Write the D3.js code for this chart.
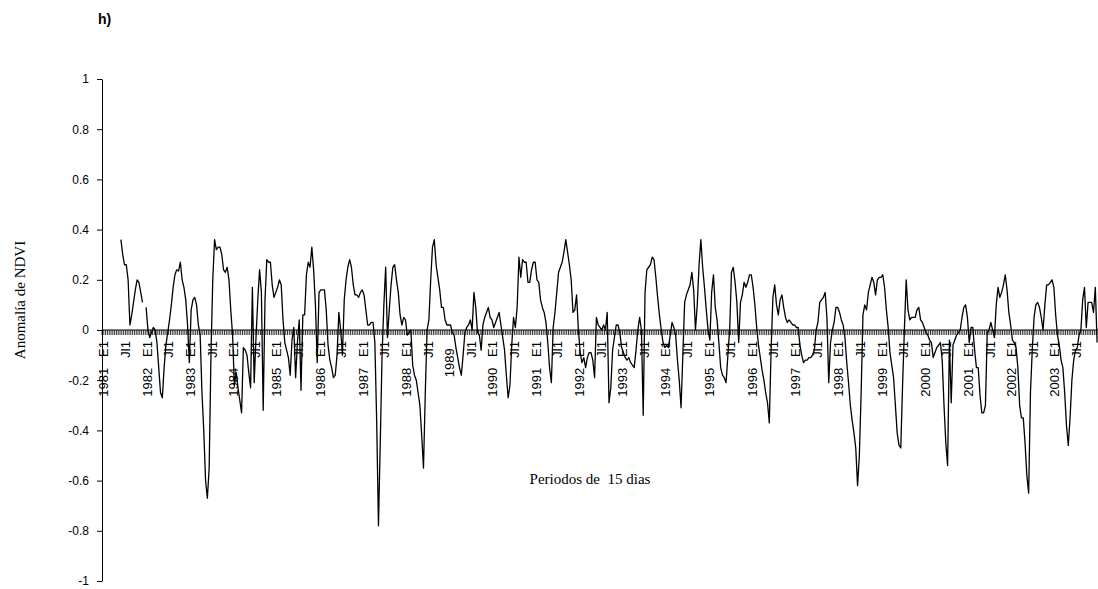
<!DOCTYPE html>
<html>
<head>
<meta charset="utf-8">
<title>Anomalía de NDVI</title>
<style>
  body { margin: 0; background: #fff; }
  .tick-label { font: 12px "Liberation Sans", Arial, sans-serif; fill: #000; white-space: pre; }
  .cat-label { font: 13px "Liberation Sans", Arial, sans-serif; fill: #000; white-space: pre; }
  .title { font: 15px "Liberation Serif", "Times New Roman", serif; fill: #000; white-space: pre; }
  .panel { font: bold 14px "Liberation Sans", Arial, sans-serif; fill: #000; }
</style>
<script src="https://d3js.org/d3.v7.min.js"></script>
</head>
<body>
<svg width="1098" height="589"></svg>
<script>
// years on the category axis (24 fifteen-day periods per year)
const years = [1981, 1982, 1983, 1984, 1985, 1986, 1987, 1988, 1989, 1990, 1991, 1992,
               1993, 1994, 1995, 1996, 1997, 1998, 1999, 2000, 2001, 2002, 2003];
const halfLabels = ["E1", "Jl1"];
const yTicks = [-1, -0.8, -0.6, -0.4, -0.2, 0, 0.2, 0.4, 0.6, 0.8, 1];

// NDVI anomaly, one value per 15-day period (null = no data)
const ndvi = [
  // 1981
  null, null, null, null, null, null, null, null, null, null, .36, .30,
  .26, .26, .20, .02, .06, .11, .16, .20, .19, .15, .11, null,
  // 1982
  .09, .00, -.03, -.01, .01, .00, -.05, -.15, -.25, -.27, -.15, -.06,
  -.01, .04, .10, .17, .22, .24, .235, .27, .20, .17, .12, .02,
  // 1983
  -.13, .08, .12, .13, .10, .02, -.02, -.25, -.40, -.60, -.67, -.55,
  -.10, .20, .36, .32, .33, .33, .30, .24, .23, .25, .20, .08,
  // 1984
  -.02, -.22, -.17, -.23, -.28, -.33, -.07, -.08, -.10, -.17, -.23, .17,
  -.21, -.03, .12, .24, .15, -.32, .12, .28, .27, .27, .18, .13,
  // 1985
  .15, .17, .20, .18, .04, -.05, -.08, -.11, -.18, -.04, .01, -.19,
  -.05, .04, -.24, .06, .06, .22, .27, .25, .33, .24, .10, -.13,
  // 1986
  .15, .16, .16, .16, .08, -.06, -.12, -.15, -.19, -.18, -.10, .07,
  .00, -.10, .12, .20, .25, .28, .25, .18, .14, .14, .13, .15,
  // 1987
  .16, .14, .08, .02, .02, .03, .03, -.05, -.36, -.78, -.45, -.10,
  .10, .25, -.03, .08, .18, .25, .26, .20, .15, .06, .02, .05,
  // 1988
  .04, -.02, -.01, .00, -.14, -.18, -.20, -.25, -.30, -.42, -.55, -.25,
  .00, .04, .20, .33, .36, .26, .21, .16, .09, .09, .04, .02,
  // 1989
  .02, .02, -.01, -.02, -.07, -.11, -.15, -.18, -.10, -.01, .01, .02,
  .04, .00, .15, .09, -.01, -.02, -.08, .02, .05, .07, .09, .05,
  // 1990
  .04, .01, .03, .05, .07, .02, -.03, -.08, -.18, -.27, -.22, -.06,
  .05, .01, .09, .29, .21, .28, .27, .27, .19, .19, .24, .27,
  // 1991
  .27, .20, .19, .12, .09, .07, .03, -.05, -.15, -.21, .01, .07,
  .15, .23, .25, .27, .31, .36, .31, .26, .20, .07, .08, .14,
  // 1992
  .00, -.09, -.13, -.11, -.15, -.11, -.09, -.09, -.12, -.19, .05, .02,
  .01, .00, .02, .00, .07, -.29, -.23, -.08, -.03, .02, .02, -.01,
  // 1993
  -.07, -.09, -.11, -.12, -.11, -.13, -.14, -.15, -.08, .00, .05, .00,
  -.34, .15, .24, .25, .26, .29, .28, .21, .13, .06, .00, -.05,
  // 1994
  -.07, -.06, -.07, -.02, .03, .01, -.02, -.12, -.20, -.31, -.10, .11,
  .14, .16, .18, .23, .16, .00, .10, .26, .36, .25, .17, .08,
  // 1995
  .00, -.04, .15, .22, .09, .04, -.05, -.15, -.18, -.19, -.21, -.10,
  .00, .23, .25, .19, .11, -.05, .11, .14, .19, .17, .19, .22,
  // 1996
  .22, .17, .10, .01, -.06, -.11, -.16, -.20, -.25, -.29, -.37, -.08,
  .13, .18, .10, .06, .12, .14, .09, .05, .03, .04, .03, .02,
  // 1997
  .02, .01, .01, -.06, -.10, -.13, -.12, -.12, -.11, -.11, -.10, -.08,
  .00, .03, .11, .12, .13, .15, .05, -.21, -.05, .00, .03, .09,
  // 1998
  .09, .07, .04, .02, -.03, -.13, -.21, -.30, -.36, -.41, -.47, -.62,
  -.50, -.25, .06, .10, .08, .15, .18, .21, .19, .14, .20, .21,
  // 1999
  .21, .22, .17, .08, .01, -.09, -.14, -.19, -.30, -.41, -.46, -.47,
  -.22, .00, .20, .08, .04, .05, .05, .05, .08, .09, .04, .03,
  // 2000
  .01, -.01, -.02, -.04, -.05, -.11, -.09, -.07, -.06, -.05, -.12, -.30,
  -.45, -.54, -.04, -.29, -.06, -.04, -.02, -.01, .00, .05, .09, .10,
  // 2001
  .05, -.05, .01, .01, -.08, -.15, -.15, -.26, -.33, -.33, -.30, -.01,
  .00, .03, .00, -.03, .10, .17, .13, .15, .18, .22, .16, .07,
  // 2002
  .02, -.04, -.05, -.07, -.15, -.30, -.35, -.35, -.45, -.58, -.65, -.25,
  -.08, .05, .10, .11, .09, .05, .00, .10, .18, .18, .19, .20,
  // 2003
  .17, .06, -.02, -.06, -.12, -.15, -.25, -.38, -.46, -.35, -.20, -.12,
  -.08, -.07, -.02, .00, .12, .17, .01, .11, .11, .11, .07, .17,
  // 2004
  -.05
];

const svg = d3.select("svg");

const x = d3.scaleBand()
  .domain(d3.range(ndvi.length))
  .range([102, 1098]);
const half = x.bandwidth() / 2;

const y = d3.scaleLinear()
  .domain([-1, 1])
  .range([581, 79]);

// y axis
const yAxis = svg.append("g")
  .attr("transform", "translate(102,0)")
  .call(d3.axisLeft(y)
    .tickValues(yTicks)
    .tickSize(5)
    .tickSizeOuter(0)
    .tickPadding(8)
    .tickFormat(d => String(+d.toFixed(1))));
yAxis.select(".domain").attr("stroke", "#000");
yAxis.selectAll("text").attr("class", "tick-label");
yAxis.attr("font-family", null).attr("font-size", null);

// x axis line at zero with a tick between every period
const xAxis = svg.append("g");
xAxis.selectAll("line.tk")
  .data(d3.range(ndvi.length + 1))
  .enter().append("line")
  .attr("class", "tk")
  .attr("x1", i => (i < ndvi.length ? x(i) : x(i - 1) + x.bandwidth()))
  .attr("x2", i => (i < ndvi.length ? x(i) : x(i - 1) + x.bandwidth()))
  .attr("y1", y(0))
  .attr("y2", y(0) + 5)
  .attr("stroke", "#000")
  .attr("stroke-width", 0.8);
xAxis.append("line")
  .attr("x1", x.range()[0])
  .attr("x2", x.range()[1])
  .attr("y1", y(0))
  .attr("y2", y(0))
  .attr("stroke", "#000");

// category labels: year + E1 at the start of a year, Jl1 half way
const catLabels = [];
years.forEach(yr => {
  catLabels.push({ i: (yr - years[0]) * 24, text: (yr === 1989 ? "1989  " : yr + "   " + halfLabels[0]) });
  catLabels.push({ i: (yr - years[0]) * 24 + 12, text: halfLabels[1] });
});
xAxis.selectAll("text")
  .data(catLabels)
  .enter().append("text")
  .attr("class", "cat-label")
  .attr("text-anchor", "end")
  .attr("dy", "0.35em")
  .attr("transform", d => `translate(${x(d.i) + half + 1},${y(0) + 11}) rotate(-90)`)
  .text(d => d.text);

// the series
const pts = ndvi.map((v, i) => ({ i, v }));
const line = d3.line()
  .defined(d => d.v !== null)
  .x(d => x(d.i) + half)
  .y(d => y(d.v));
svg.append("path")
  .datum(pts)
  .attr("fill", "none")
  .attr("stroke", "#000")
  .attr("stroke-width", 1.3)
  .attr("stroke-linejoin", "round")
  .attr("d", line);

// titles
svg.append("text")
  .attr("class", "panel")
  .attr("x", 98)
  .attr("y", 24)
  .text("h)");

svg.append("text")
  .attr("class", "title")
  .attr("text-anchor", "middle")
  .attr("x", 590)
  .attr("y", 484)
  .text("Periodos de  15 dìas");

svg.append("text")
  .attr("class", "title")
  .attr("text-anchor", "middle")
  .attr("transform", "translate(25,300) rotate(-90)")
  .text("Anomalía de NDVI");
</script>
</body>
</html>
